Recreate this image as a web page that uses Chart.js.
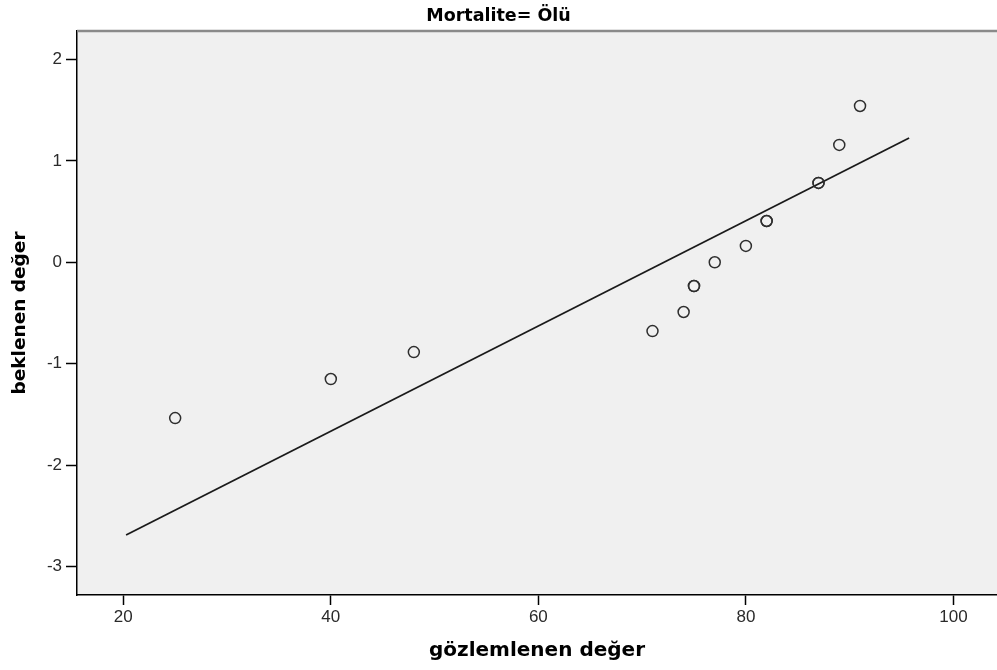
<!DOCTYPE html>
<html lang="tr">
<head>
<meta charset="utf-8">
<title>Mortalite= Ölü</title>
<script src="https://cdn.jsdelivr.net/npm/chart.js@4.4.1/dist/chart.umd.min.js"></script>
<style>
  html, body { margin: 0; padding: 0; background: #ffffff; overflow: hidden; }
  #contenedor { width: 997px; height: 670px; }
  #qqChart { display: block; }
</style>
</head>
<body>
<div id="contenedor"><canvas id="qqChart" width="997" height="670"></canvas></div>
<script>
// Valores (Q-Q normal)
const observados = [25, 40, 48, 71, 74, 75, 75, 77, 80, 82, 82, 87, 87, 89, 91];
const esperados = [-1.536, -1.151, -0.885, -0.678, -0.49, -0.234, -0.234, 0, 0.161, 0.407, 0.407, 0.782, 0.782, 1.157, 1.541];

// Recta de referencia (dos extremos)
const lineaX = [20.27, 95.73];
const lineaY = [-2.689, 1.225];

// Marcas de los ejes
const ticksX = [20, 40, 60, 80, 100];
const ticksY = [-3, -2, -1, 0, 1, 2];

// Fondo gris del area y borde superior
const fondoPlot = {
    id: 'fondoPlot',
    beforeDraw(chart) {
        const { ctx, chartArea: a } = chart;
        ctx.save();
        ctx.fillStyle = '#f0f0f0';
        ctx.fillRect(a.left, a.top, a.right - a.left, a.bottom - a.top);
        ctx.restore();
    },
    afterDraw(chart) {
        const { ctx, chartArea: a } = chart;
        ctx.save();
        ctx.strokeStyle = '#8a8a8a';
        ctx.lineWidth = 2.5;
        ctx.beginPath();
        ctx.moveTo(a.left, a.top);
        ctx.lineTo(a.right, a.top);
        ctx.stroke();
        ctx.restore();
    }
};

const puntos = observados.map((x, i) => ({ x: x, y: esperados[i] }));
const recta = lineaX.map((x, i) => ({ x: x, y: lineaY[i] }));

new Chart(document.getElementById('qqChart'), {
    type: 'scatter',
    data: {
        datasets: [{
            data: puntos,
            showLine: false,
            pointRadius: 5.5,
            pointBorderWidth: 1.5,
            pointBorderColor: '#2e2e2e',
            pointBackgroundColor: 'rgba(0,0,0,0)'
        }, {
            data: recta,
            showLine: true,
            pointRadius: 0,
            borderColor: '#1a1a1a',
            borderWidth: 1.8,
            fill: false
        }]
    },
    options: {
        responsive: false,
        animation: false,
        layout: { padding: 0, autoPadding: false },
        plugins: {
            legend: { display: false },
            tooltip: { enabled: false },
            title: {
                display: true,
                text: 'Mortalite= Ölü',
                color: '#000000',
                font: { family: 'DejaVu Sans', weight: 'bold', size: 17.5 },
                padding: { top: 6, bottom: 4 }
            }
        },
        scales: {
            x: {
                type: 'linear',
                min: 15.54,
                max: 104.2,
                afterBuildTicks: s => { s.ticks = ticksX.map(v => ({ value: v })); },
                afterFit: s => { s.height = 75; s.paddingLeft = 0; s.paddingRight = 0; },
                grid: { drawOnChartArea: false, drawTicks: true, tickLength: 10, tickColor: '#000000', tickWidth: 1.5 },
                border: { color: '#000000', width: 1.5 },
                ticks: { color: '#2a2a2a', font: { family: 'Liberation Sans', size: 17 }, padding: 2, maxRotation: 0 },
                title: {
                    display: true,
                    text: 'gözlemlenen değer',
                    color: '#000000',
                    font: { family: 'DejaVu Sans', weight: 'bold', size: 20 },
                    padding: { top: 0, bottom: 7.6 }
                }
            },
            y: {
                type: 'linear',
                min: -3.28,
                max: 2.28,
                afterBuildTicks: s => { s.ticks = ticksY.map(v => ({ value: v })); },
                afterFit: s => { s.width = 77; s.paddingTop = 0; s.paddingBottom = 0; },
                grid: { drawOnChartArea: false, drawTicks: true, tickLength: 11, tickColor: '#000000', tickWidth: 1.5 },
                border: { color: '#000000', width: 1.5 },
                ticks: { color: '#2a2a2a', font: { family: 'Liberation Sans', size: 17 }, padding: 4 },
                title: {
                    display: true,
                    text: 'beklenen değer',
                    color: '#000000',
                    font: { family: 'DejaVu Sans', weight: 'bold', size: 18.5 },
                    padding: { top: 8.9, bottom: 0 }
                }
            }
        }
    },
    plugins: [fondoPlot]
});
</script>
</body>
</html>
